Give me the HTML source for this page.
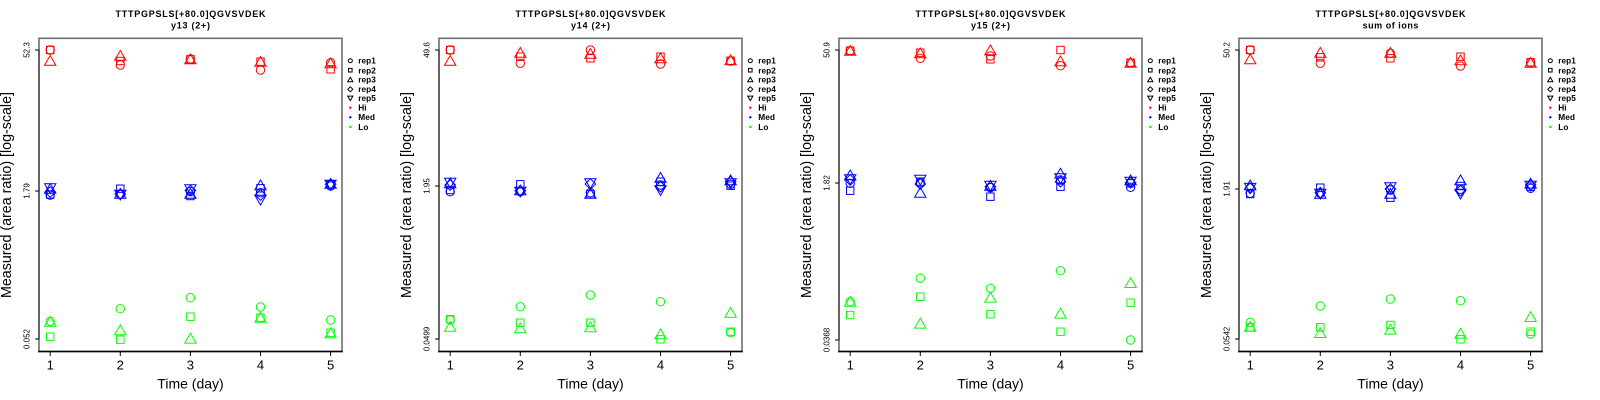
<!DOCTYPE html>
<html><head><meta charset="utf-8"><style>
html,body{margin:0;padding:0;background:#fff;width:1600px;height:400px;overflow:hidden}
svg{display:block}
text{font-family:"Liberation Sans",Arial,sans-serif;fill:#000}
</style></head><body>
<svg width="1600" height="400" viewBox="0 0 1600 400" xmlns="http://www.w3.org/2000/svg">
<rect width="1600" height="400" fill="#fff"/>

<!-- ================= PANEL 1 ================= -->
<g transform="translate(0,0)">
<text x="190.5" y="16.9" font-size="9" font-weight="bold" text-anchor="middle" textLength="150" lengthAdjust="spacing">TTTPGPSLS[+80.0]QGVSVDEK</text>
<text x="190.5" y="28.7" font-size="9" font-weight="bold" text-anchor="middle" textLength="39" lengthAdjust="spacing">y13 (2+)</text>
<rect x="39" y="38.3" width="303" height="313.2" fill="none" stroke="#6e6e6e" stroke-width="1.6"/>
<line x1="38.2" y1="351.5" x2="342.8" y2="351.5" stroke="#000" stroke-width="1.6"/>
<line x1="39" y1="50" x2="39" y2="339" stroke="#222" stroke-width="1"/>
<g stroke="#000" stroke-width="1">
<line x1="35" y1="50" x2="39" y2="50"/><line x1="35" y1="191" x2="39" y2="191"/><line x1="35" y1="339" x2="39" y2="339"/>
<line x1="50.2" y1="351.5" x2="50.2" y2="356"/><line x1="120.3" y1="351.5" x2="120.3" y2="356"/><line x1="190.4" y1="351.5" x2="190.4" y2="356"/><line x1="260.5" y1="351.5" x2="260.5" y2="356"/><line x1="330.6" y1="351.5" x2="330.6" y2="356"/>
</g>
<text transform="translate(29.3,50) rotate(-90)" font-size="8" text-anchor="middle">52.3</text>
<text transform="translate(29.3,191) rotate(-90)" font-size="8" text-anchor="middle">1.79</text>
<text transform="translate(29.3,339) rotate(-90)" font-size="8" text-anchor="middle">0.052</text>
<g font-size="13" text-anchor="middle"><text x="50.2" y="369.3">1</text><text x="120.3" y="369.3">2</text><text x="190.4" y="369.3">3</text><text x="260.5" y="369.3">4</text><text x="330.6" y="369.3">5</text></g>
<text x="190.5" y="388.3" font-size="14" text-anchor="middle">Time (day)</text>
<text transform="translate(11,195) rotate(-90)" font-size="14.3" text-anchor="middle" textLength="206" lengthAdjust="spacingAndGlyphs">Measured (area ratio) [log-scale]</text>
<g fill="none" stroke="#f00" stroke-width="1">
<circle cx="50.2" cy="50" r="4.2"/><rect x="46.5" y="46.3" width="7.4" height="7.4"/><path transform="translate(50.2,62)" d="M0,-6.5L5.66,3.27H-5.66Z"/>
<path transform="translate(120.3,57)" d="M0,-6.5L5.66,3.27H-5.66Z"/><rect x="116.6" y="57.3" width="7.4" height="7.4"/><circle cx="120.3" cy="65" r="4.2"/>
<rect x="186.7" y="55.6" width="7.4" height="7.4"/><path transform="translate(190.4,60.5)" d="M0,-6.5L5.66,3.27H-5.66Z"/><circle cx="190.4" cy="59" r="4.2"/>
<rect x="256.8" y="58" width="7.4" height="7.4"/><path transform="translate(260.5,63)" d="M0,-6.5L5.66,3.27H-5.66Z"/><circle cx="260.5" cy="70" r="4.2"/>
<circle cx="330.6" cy="62.7" r="4.2"/><path transform="translate(330.6,64.5)" d="M0,-6.5L5.66,3.27H-5.66Z"/><rect x="326.9" y="65.6" width="7.4" height="7.4"/>
</g>
<g fill="none" stroke="#00f" stroke-width="1">
<circle cx="50.2" cy="195" r="4.2"/><rect x="46.5" y="190.8" width="7.4" height="7.4"/><path transform="translate(50.2,190)" d="M0,-6.5L5.66,3.27H-5.66Z"/><path transform="translate(50.2,192)" d="M0,-5.3L5.3,0L0,5.3L-5.3,0Z"/><path transform="translate(50.2,187)" d="M0,6.5L5.66,-3.27H-5.66Z"/>
<rect x="116.6" y="185" width="7.4" height="7.4"/><circle cx="120.3" cy="194.3" r="4.2"/><path transform="translate(120.3,194)" d="M0,-5.3L5.3,0L0,5.3L-5.3,0Z"/><path transform="translate(120.3,195)" d="M0,-6.5L5.66,3.27H-5.66Z"/><path transform="translate(120.3,193.5)" d="M0,6.5L5.66,-3.27H-5.66Z"/>
<rect x="186.7" y="192.3" width="7.4" height="7.4"/><path transform="translate(190.4,195)" d="M0,-6.5L5.66,3.27H-5.66Z"/><circle cx="190.4" cy="191.5" r="4.2"/><path transform="translate(190.4,190.5)" d="M0,-5.3L5.3,0L0,5.3L-5.3,0Z"/><path transform="translate(190.4,188)" d="M0,6.5L5.66,-3.27H-5.66Z"/>
<path transform="translate(260.5,186.5)" d="M0,-6.5L5.66,3.27H-5.66Z"/><rect x="256.8" y="184.6" width="7.4" height="7.4"/><circle cx="260.5" cy="192.7" r="4.2"/><path transform="translate(260.5,195)" d="M0,-5.3L5.3,0L0,5.3L-5.3,0Z"/><path transform="translate(260.5,198.5)" d="M0,6.5L5.66,-3.27H-5.66Z"/>
<circle cx="330.6" cy="186" r="4.2"/><rect x="326.9" y="180.6" width="7.4" height="7.4"/><path transform="translate(330.6,185)" d="M0,-6.5L5.66,3.27H-5.66Z"/><path transform="translate(330.6,184.3)" d="M0,-5.3L5.3,0L0,5.3L-5.3,0Z"/><path transform="translate(330.6,183.5)" d="M0,6.5L5.66,-3.27H-5.66Z"/>
</g>
<g fill="none" stroke="#0f0" stroke-width="1">
<circle cx="50.2" cy="321.3" r="4.2"/><path transform="translate(50.2,323)" d="M0,-6.5L5.66,3.27H-5.66Z"/><rect x="46.5" y="333" width="7.4" height="7.4"/>
<circle cx="120.3" cy="308.7" r="4.2"/><path transform="translate(120.3,331.5)" d="M0,-6.5L5.66,3.27H-5.66Z"/><rect x="116.6" y="336" width="7.4" height="7.4"/>
<circle cx="190.4" cy="297.7" r="4.2"/><rect x="186.7" y="313" width="7.4" height="7.4"/><path transform="translate(190.4,339.8)" d="M0,-6.5L5.66,3.27H-5.66Z"/>
<circle cx="260.5" cy="307" r="4.2"/><rect x="256.8" y="314" width="7.4" height="7.4"/><path transform="translate(260.5,319)" d="M0,-6.5L5.66,3.27H-5.66Z"/>
<circle cx="330.6" cy="320" r="4.2"/><rect x="326.9" y="329" width="7.4" height="7.4"/><path transform="translate(330.6,334.5)" d="M0,-6.5L5.66,3.27H-5.66Z"/>
</g>
<g fill="none" stroke="#000" stroke-width="1">
<circle cx="350.3" cy="60.7" r="2"/><rect x="348.5" y="68.4" width="3.6" height="3.6"/><path transform="translate(350.3,80.3)" d="M0,-3L2.6,1.5H-2.6Z"/><path transform="translate(350.3,89.3)" d="M0,-2.5L2.5,0L0,2.5L-2.5,0Z"/><path transform="translate(350.3,97.6)" d="M0,3L2.6,-1.5H-2.6Z"/>
</g>
<circle cx="350.3" cy="107.7" r="1.2" fill="#f00"/><circle cx="350.3" cy="117.3" r="1.2" fill="#00f"/><circle cx="350.3" cy="127" r="1.2" fill="#0f0"/>
<g font-size="8.3" font-weight="bold"><text x="358.3" y="63.6">rep1</text><text x="358.3" y="73.4">rep2</text><text x="358.3" y="82.4">rep3</text><text x="358.3" y="92.2">rep4</text><text x="358.3" y="101.2">rep5</text><text x="358.3" y="110.6">Hi</text><text x="358.3" y="120.2">Med</text><text x="358.3" y="129.9">Lo</text></g>
</g>

<!-- ================= PANEL 2 ================= -->
<g transform="translate(400,0)">
<text x="190.5" y="16.9" font-size="9" font-weight="bold" text-anchor="middle" textLength="150" lengthAdjust="spacing">TTTPGPSLS[+80.0]QGVSVDEK</text>
<text x="190.5" y="28.7" font-size="9" font-weight="bold" text-anchor="middle" textLength="39" lengthAdjust="spacing">y14 (2+)</text>
<rect x="39" y="38.3" width="303" height="313.2" fill="none" stroke="#6e6e6e" stroke-width="1.6"/>
<line x1="38.2" y1="351.5" x2="342.8" y2="351.5" stroke="#000" stroke-width="1.6"/>
<line x1="39" y1="50" x2="39" y2="339" stroke="#222" stroke-width="1"/>
<g stroke="#000" stroke-width="1">
<line x1="35" y1="50" x2="39" y2="50"/><line x1="35" y1="186" x2="39" y2="186"/><line x1="35" y1="339" x2="39" y2="339"/>
<line x1="50.2" y1="351.5" x2="50.2" y2="356"/><line x1="120.3" y1="351.5" x2="120.3" y2="356"/><line x1="190.4" y1="351.5" x2="190.4" y2="356"/><line x1="260.5" y1="351.5" x2="260.5" y2="356"/><line x1="330.6" y1="351.5" x2="330.6" y2="356"/>
</g>
<text transform="translate(29.3,50) rotate(-90)" font-size="8" text-anchor="middle">49.6</text>
<text transform="translate(29.3,186) rotate(-90)" font-size="8" text-anchor="middle">1.95</text>
<text transform="translate(29.3,339) rotate(-90)" font-size="8" text-anchor="middle">0.0499</text>
<g font-size="13" text-anchor="middle"><text x="50.2" y="369.3">1</text><text x="120.3" y="369.3">2</text><text x="190.4" y="369.3">3</text><text x="260.5" y="369.3">4</text><text x="330.6" y="369.3">5</text></g>
<text x="190.5" y="388.3" font-size="14" text-anchor="middle">Time (day)</text>
<text transform="translate(11,195) rotate(-90)" font-size="14.3" text-anchor="middle" textLength="206" lengthAdjust="spacingAndGlyphs">Measured (area ratio) [log-scale]</text>
<g fill="none" stroke="#f00" stroke-width="1">
<circle cx="50.2" cy="50" r="4.2"/><rect x="46.5" y="46.3" width="7.4" height="7.4"/><path transform="translate(50.2,62)" d="M0,-6.5L5.66,3.27H-5.66Z"/>
<path transform="translate(120.3,54)" d="M0,-6.5L5.66,3.27H-5.66Z"/><rect x="116.6" y="53" width="7.4" height="7.4"/><circle cx="120.3" cy="63.3" r="4.2"/>
<circle cx="190.4" cy="50" r="4.2"/><path transform="translate(190.4,55)" d="M0,-6.5L5.66,3.27H-5.66Z"/><rect x="186.7" y="54.6" width="7.4" height="7.4"/>
<rect x="256.8" y="53" width="7.4" height="7.4"/><path transform="translate(260.5,59.5)" d="M0,-6.5L5.66,3.27H-5.66Z"/><circle cx="260.5" cy="64" r="4.2"/>
<circle cx="330.6" cy="61" r="4.2"/><rect x="326.9" y="57" width="7.4" height="7.4"/><path transform="translate(330.6,61.5)" d="M0,-6.5L5.66,3.27H-5.66Z"/>
</g>
<g fill="none" stroke="#00f" stroke-width="1">
<circle cx="50.2" cy="191.7" r="4.2"/><rect x="46.5" y="186.3" width="7.4" height="7.4"/><path transform="translate(50.2,184.5)" d="M0,-6.5L5.66,3.27H-5.66Z"/><path transform="translate(50.2,185)" d="M0,-5.3L5.3,0L0,5.3L-5.3,0Z"/><path transform="translate(50.2,181.5)" d="M0,6.5L5.66,-3.27H-5.66Z"/>
<rect x="116.6" y="180.6" width="7.4" height="7.4"/><circle cx="120.3" cy="191.7" r="4.2"/><path transform="translate(120.3,190.7)" d="M0,-5.3L5.3,0L0,5.3L-5.3,0Z"/><path transform="translate(120.3,191.5)" d="M0,-6.5L5.66,3.27H-5.66Z"/><path transform="translate(120.3,190.5)" d="M0,6.5L5.66,-3.27H-5.66Z"/>
<rect x="186.7" y="190.6" width="7.4" height="7.4"/><circle cx="190.4" cy="192.7" r="4.2"/><path transform="translate(190.4,195)" d="M0,-6.5L5.66,3.27H-5.66Z"/><path transform="translate(190.4,184)" d="M0,-5.3L5.3,0L0,5.3L-5.3,0Z"/><path transform="translate(190.4,182)" d="M0,6.5L5.66,-3.27H-5.66Z"/>
<path transform="translate(260.5,179)" d="M0,-6.5L5.66,3.27H-5.66Z"/><rect x="256.8" y="178" width="7.4" height="7.4"/><circle cx="260.5" cy="185" r="4.2"/><path transform="translate(260.5,186.7)" d="M0,-5.3L5.3,0L0,5.3L-5.3,0Z"/><path transform="translate(260.5,189)" d="M0,6.5L5.66,-3.27H-5.66Z"/>
<path transform="translate(330.6,181.5)" d="M0,-6.5L5.66,3.27H-5.66Z"/><rect x="326.9" y="182" width="7.4" height="7.4"/><circle cx="330.6" cy="184.3" r="4.2"/><path transform="translate(330.6,181.7)" d="M0,-5.3L5.3,0L0,5.3L-5.3,0Z"/><path transform="translate(330.6,182)" d="M0,6.5L5.66,-3.27H-5.66Z"/>
</g>
<g fill="none" stroke="#0f0" stroke-width="1">
<circle cx="50.2" cy="320" r="4.2"/><rect x="46.5" y="315.6" width="7.4" height="7.4"/><path transform="translate(50.2,328)" d="M0,-6.5L5.66,3.27H-5.66Z"/>
<circle cx="120.3" cy="306.7" r="4.2"/><rect x="116.6" y="319" width="7.4" height="7.4"/><path transform="translate(120.3,329.5)" d="M0,-6.5L5.66,3.27H-5.66Z"/>
<circle cx="190.4" cy="295" r="4.2"/><rect x="186.7" y="319" width="7.4" height="7.4"/><path transform="translate(190.4,328.5)" d="M0,-6.5L5.66,3.27H-5.66Z"/>
<circle cx="260.5" cy="301.7" r="4.2"/><path transform="translate(260.5,335.5)" d="M0,-6.5L5.66,3.27H-5.66Z"/><rect x="256.8" y="335.6" width="7.4" height="7.4"/>
<path transform="translate(330.6,314)" d="M0,-6.5L5.66,3.27H-5.66Z"/><rect x="326.9" y="328" width="7.4" height="7.4"/><circle cx="330.6" cy="332.7" r="4.2"/>
</g>
<g fill="none" stroke="#000" stroke-width="1">
<circle cx="350.3" cy="60.7" r="2"/><rect x="348.5" y="68.4" width="3.6" height="3.6"/><path transform="translate(350.3,80.3)" d="M0,-3L2.6,1.5H-2.6Z"/><path transform="translate(350.3,89.3)" d="M0,-2.5L2.5,0L0,2.5L-2.5,0Z"/><path transform="translate(350.3,97.6)" d="M0,3L2.6,-1.5H-2.6Z"/>
</g>
<circle cx="350.3" cy="107.7" r="1.2" fill="#f00"/><circle cx="350.3" cy="117.3" r="1.2" fill="#00f"/><circle cx="350.3" cy="127" r="1.2" fill="#0f0"/>
<g font-size="8.3" font-weight="bold"><text x="358.3" y="63.6">rep1</text><text x="358.3" y="73.4">rep2</text><text x="358.3" y="82.4">rep3</text><text x="358.3" y="92.2">rep4</text><text x="358.3" y="101.2">rep5</text><text x="358.3" y="110.6">Hi</text><text x="358.3" y="120.2">Med</text><text x="358.3" y="129.9">Lo</text></g>
</g>

<!-- ================= PANEL 3 ================= -->
<g transform="translate(800,0)">
<text x="190.5" y="16.9" font-size="9" font-weight="bold" text-anchor="middle" textLength="150" lengthAdjust="spacing">TTTPGPSLS[+80.0]QGVSVDEK</text>
<text x="190.5" y="28.7" font-size="9" font-weight="bold" text-anchor="middle" textLength="39" lengthAdjust="spacing">y15 (2+)</text>
<rect x="39" y="38.3" width="303" height="313.2" fill="none" stroke="#6e6e6e" stroke-width="1.6"/>
<line x1="38.2" y1="351.5" x2="342.8" y2="351.5" stroke="#000" stroke-width="1.6"/>
<line x1="39" y1="50" x2="39" y2="340" stroke="#222" stroke-width="1"/>
<g stroke="#000" stroke-width="1">
<line x1="35" y1="50" x2="39" y2="50"/><line x1="35" y1="183" x2="39" y2="183"/><line x1="35" y1="340" x2="39" y2="340"/>
<line x1="50.2" y1="351.5" x2="50.2" y2="356"/><line x1="120.3" y1="351.5" x2="120.3" y2="356"/><line x1="190.4" y1="351.5" x2="190.4" y2="356"/><line x1="260.5" y1="351.5" x2="260.5" y2="356"/><line x1="330.6" y1="351.5" x2="330.6" y2="356"/>
</g>
<text transform="translate(29.3,50) rotate(-90)" font-size="8" text-anchor="middle">50.9</text>
<text transform="translate(29.3,183) rotate(-90)" font-size="8" text-anchor="middle">1.82</text>
<text transform="translate(29.3,340) rotate(-90)" font-size="8" text-anchor="middle">0.0368</text>
<g font-size="13" text-anchor="middle"><text x="50.2" y="369.3">1</text><text x="120.3" y="369.3">2</text><text x="190.4" y="369.3">3</text><text x="260.5" y="369.3">4</text><text x="330.6" y="369.3">5</text></g>
<text x="190.5" y="388.3" font-size="14" text-anchor="middle">Time (day)</text>
<text transform="translate(11,195) rotate(-90)" font-size="14.3" text-anchor="middle" textLength="206" lengthAdjust="spacingAndGlyphs">Measured (area ratio) [log-scale]</text>
<g fill="none" stroke="#f00" stroke-width="1">
<circle cx="50.2" cy="50.7" r="4.2"/><rect x="46.5" y="47" width="7.4" height="7.4"/><path transform="translate(50.2,52)" d="M0,-6.5L5.66,3.27H-5.66Z"/>
<rect x="116.6" y="49" width="7.4" height="7.4"/><path transform="translate(120.3,54.5)" d="M0,-6.5L5.66,3.27H-5.66Z"/><circle cx="120.3" cy="58.3" r="4.2"/>
<path transform="translate(190.4,51.5)" d="M0,-6.5L5.66,3.27H-5.66Z"/><rect x="186.7" y="55.6" width="7.4" height="7.4"/><circle cx="190.4" cy="56" r="4.2"/>
<rect x="256.8" y="46.3" width="7.4" height="7.4"/><path transform="translate(260.5,62.5)" d="M0,-6.5L5.66,3.27H-5.66Z"/><circle cx="260.5" cy="65.7" r="4.2"/>
<circle cx="330.6" cy="62.7" r="4.2"/><rect x="326.9" y="59" width="7.4" height="7.4"/><path transform="translate(330.6,64)" d="M0,-6.5L5.66,3.27H-5.66Z"/>
</g>
<g fill="none" stroke="#00f" stroke-width="1">
<path transform="translate(50.2,176.5)" d="M0,-6.5L5.66,3.27H-5.66Z"/><path transform="translate(50.2,180)" d="M0,-5.3L5.3,0L0,5.3L-5.3,0Z"/><circle cx="50.2" cy="183.3" r="4.2"/><rect x="46.5" y="187" width="7.4" height="7.4"/><path transform="translate(50.2,178)" d="M0,6.5L5.66,-3.27H-5.66Z"/>
<path transform="translate(120.3,178.5)" d="M0,6.5L5.66,-3.27H-5.66Z"/><rect x="116.6" y="178" width="7.4" height="7.4"/><circle cx="120.3" cy="182.7" r="4.2"/><path transform="translate(120.3,184)" d="M0,-5.3L5.3,0L0,5.3L-5.3,0Z"/><path transform="translate(120.3,194)" d="M0,-6.5L5.66,3.27H-5.66Z"/>
<rect x="186.7" y="193" width="7.4" height="7.4"/><circle cx="190.4" cy="187.7" r="4.2"/><path transform="translate(190.4,186.7)" d="M0,-5.3L5.3,0L0,5.3L-5.3,0Z"/><path transform="translate(190.4,187)" d="M0,-6.5L5.66,3.27H-5.66Z"/><path transform="translate(190.4,184.5)" d="M0,6.5L5.66,-3.27H-5.66Z"/>
<path transform="translate(260.5,174.8)" d="M0,-6.5L5.66,3.27H-5.66Z"/><rect x="256.8" y="183" width="7.4" height="7.4"/><circle cx="260.5" cy="180" r="4.2"/><path transform="translate(260.5,181.7)" d="M0,-5.3L5.3,0L0,5.3L-5.3,0Z"/><path transform="translate(260.5,177)" d="M0,6.5L5.66,-3.27H-5.66Z"/>
<circle cx="330.6" cy="187.3" r="4.2"/><rect x="326.9" y="179.6" width="7.4" height="7.4"/><path transform="translate(330.6,181.5)" d="M0,-6.5L5.66,3.27H-5.66Z"/><path transform="translate(330.6,182.7)" d="M0,-5.3L5.3,0L0,5.3L-5.3,0Z"/><path transform="translate(330.6,180.5)" d="M0,6.5L5.66,-3.27H-5.66Z"/>
</g>
<g fill="none" stroke="#0f0" stroke-width="1">
<circle cx="50.2" cy="301.7" r="4.2"/><path transform="translate(50.2,303)" d="M0,-6.5L5.66,3.27H-5.66Z"/><rect x="46.5" y="311.3" width="7.4" height="7.4"/>
<circle cx="120.3" cy="278.3" r="4.2"/><rect x="116.6" y="293" width="7.4" height="7.4"/><path transform="translate(120.3,324.8)" d="M0,-6.5L5.66,3.27H-5.66Z"/>
<circle cx="190.4" cy="288.3" r="4.2"/><path transform="translate(190.4,298.8)" d="M0,-6.5L5.66,3.27H-5.66Z"/><rect x="186.7" y="310.6" width="7.4" height="7.4"/>
<circle cx="260.5" cy="270.7" r="4.2"/><path transform="translate(260.5,314.8)" d="M0,-6.5L5.66,3.27H-5.66Z"/><rect x="256.8" y="328" width="7.4" height="7.4"/>
<path transform="translate(330.6,284.2)" d="M0,-6.5L5.66,3.27H-5.66Z"/><rect x="326.9" y="299" width="7.4" height="7.4"/><circle cx="330.6" cy="340" r="4.2"/>
</g>
<g fill="none" stroke="#000" stroke-width="1">
<circle cx="350.3" cy="60.7" r="2"/><rect x="348.5" y="68.4" width="3.6" height="3.6"/><path transform="translate(350.3,80.3)" d="M0,-3L2.6,1.5H-2.6Z"/><path transform="translate(350.3,89.3)" d="M0,-2.5L2.5,0L0,2.5L-2.5,0Z"/><path transform="translate(350.3,97.6)" d="M0,3L2.6,-1.5H-2.6Z"/>
</g>
<circle cx="350.3" cy="107.7" r="1.2" fill="#f00"/><circle cx="350.3" cy="117.3" r="1.2" fill="#00f"/><circle cx="350.3" cy="127" r="1.2" fill="#0f0"/>
<g font-size="8.3" font-weight="bold"><text x="358.3" y="63.6">rep1</text><text x="358.3" y="73.4">rep2</text><text x="358.3" y="82.4">rep3</text><text x="358.3" y="92.2">rep4</text><text x="358.3" y="101.2">rep5</text><text x="358.3" y="110.6">Hi</text><text x="358.3" y="120.2">Med</text><text x="358.3" y="129.9">Lo</text></g>
</g>

<!-- ================= PANEL 4 ================= -->
<g transform="translate(1200,0)">
<text x="190.5" y="16.9" font-size="9" font-weight="bold" text-anchor="middle" textLength="150" lengthAdjust="spacing">TTTPGPSLS[+80.0]QGVSVDEK</text>
<text x="190.5" y="28.7" font-size="9" font-weight="bold" text-anchor="middle" textLength="55.7" lengthAdjust="spacing">sum of ions</text>
<rect x="39" y="38.3" width="303" height="313.2" fill="none" stroke="#6e6e6e" stroke-width="1.6"/>
<line x1="38.2" y1="351.5" x2="342.8" y2="351.5" stroke="#000" stroke-width="1.6"/>
<line x1="39" y1="50" x2="39" y2="339" stroke="#222" stroke-width="1"/>
<g stroke="#000" stroke-width="1">
<line x1="35" y1="50" x2="39" y2="50"/><line x1="35" y1="189" x2="39" y2="189"/><line x1="35" y1="339" x2="39" y2="339"/>
<line x1="50.2" y1="351.5" x2="50.2" y2="356"/><line x1="120.3" y1="351.5" x2="120.3" y2="356"/><line x1="190.4" y1="351.5" x2="190.4" y2="356"/><line x1="260.5" y1="351.5" x2="260.5" y2="356"/><line x1="330.6" y1="351.5" x2="330.6" y2="356"/>
</g>
<text transform="translate(29.3,50) rotate(-90)" font-size="8" text-anchor="middle">50.2</text>
<text transform="translate(29.3,189) rotate(-90)" font-size="8" text-anchor="middle">1.91</text>
<text transform="translate(29.3,339) rotate(-90)" font-size="8" text-anchor="middle">0.0542</text>
<g font-size="13" text-anchor="middle"><text x="50.2" y="369.3">1</text><text x="120.3" y="369.3">2</text><text x="190.4" y="369.3">3</text><text x="260.5" y="369.3">4</text><text x="330.6" y="369.3">5</text></g>
<text x="190.5" y="388.3" font-size="14" text-anchor="middle">Time (day)</text>
<text transform="translate(11,195) rotate(-90)" font-size="14.3" text-anchor="middle" textLength="206" lengthAdjust="spacingAndGlyphs">Measured (area ratio) [log-scale]</text>
<g fill="none" stroke="#f00" stroke-width="1">
<circle cx="50.2" cy="50" r="4.2"/><rect x="46.5" y="46.3" width="7.4" height="7.4"/><path transform="translate(50.2,60.5)" d="M0,-6.5L5.66,3.27H-5.66Z"/>
<path transform="translate(120.3,54)" d="M0,-6.5L5.66,3.27H-5.66Z"/><rect x="116.6" y="53.6" width="7.4" height="7.4"/><circle cx="120.3" cy="63.3" r="4.2"/>
<circle cx="190.4" cy="53.3" r="4.2"/><path transform="translate(190.4,54)" d="M0,-6.5L5.66,3.27H-5.66Z"/><rect x="186.7" y="54.6" width="7.4" height="7.4"/>
<rect x="256.8" y="53" width="7.4" height="7.4"/><path transform="translate(260.5,61.5)" d="M0,-6.5L5.66,3.27H-5.66Z"/><circle cx="260.5" cy="66" r="4.2"/>
<circle cx="330.6" cy="62.7" r="4.2"/><rect x="326.9" y="58.6" width="7.4" height="7.4"/><path transform="translate(330.6,64)" d="M0,-6.5L5.66,3.27H-5.66Z"/>
</g>
<g fill="none" stroke="#00f" stroke-width="1">
<circle cx="50.2" cy="193.3" r="4.2"/><rect x="46.5" y="190.3" width="7.4" height="7.4"/><path transform="translate(50.2,186.5)" d="M0,-6.5L5.66,3.27H-5.66Z"/><path transform="translate(50.2,188.3)" d="M0,-5.3L5.3,0L0,5.3L-5.3,0Z"/><path transform="translate(50.2,186.7)" d="M0,6.5L5.66,-3.27H-5.66Z"/>
<rect x="116.6" y="184" width="7.4" height="7.4"/><circle cx="120.3" cy="193.3" r="4.2"/><path transform="translate(120.3,192.7)" d="M0,-5.3L5.3,0L0,5.3L-5.3,0Z"/><path transform="translate(120.3,195)" d="M0,-6.5L5.66,3.27H-5.66Z"/><path transform="translate(120.3,192.5)" d="M0,6.5L5.66,-3.27H-5.66Z"/>
<rect x="186.7" y="194" width="7.4" height="7.4"/><circle cx="190.4" cy="190" r="4.2"/><path transform="translate(190.4,195)" d="M0,-6.5L5.66,3.27H-5.66Z"/><path transform="translate(190.4,189)" d="M0,-5.3L5.3,0L0,5.3L-5.3,0Z"/><path transform="translate(190.4,186)" d="M0,6.5L5.66,-3.27H-5.66Z"/>
<path transform="translate(260.5,181.5)" d="M0,-6.5L5.66,3.27H-5.66Z"/><rect x="256.8" y="182.3" width="7.4" height="7.4"/><circle cx="260.5" cy="189.3" r="4.2"/><path transform="translate(260.5,190.7)" d="M0,-5.3L5.3,0L0,5.3L-5.3,0Z"/><path transform="translate(260.5,192.5)" d="M0,6.5L5.66,-3.27H-5.66Z"/>
<circle cx="330.6" cy="188.3" r="4.2"/><rect x="326.9" y="183" width="7.4" height="7.4"/><path transform="translate(330.6,184.8)" d="M0,-6.5L5.66,3.27H-5.66Z"/><path transform="translate(330.6,185)" d="M0,-5.3L5.3,0L0,5.3L-5.3,0Z"/><path transform="translate(330.6,184.5)" d="M0,6.5L5.66,-3.27H-5.66Z"/>
</g>
<g fill="none" stroke="#0f0" stroke-width="1">
<circle cx="50.2" cy="322.3" r="4.2"/><rect x="46.5" y="323.6" width="7.4" height="7.4"/><path transform="translate(50.2,328)" d="M0,-6.5L5.66,3.27H-5.66Z"/>
<circle cx="120.3" cy="306" r="4.2"/><rect x="116.6" y="323.6" width="7.4" height="7.4"/><path transform="translate(120.3,334.2)" d="M0,-6.5L5.66,3.27H-5.66Z"/>
<circle cx="190.4" cy="299" r="4.2"/><rect x="186.7" y="321.3" width="7.4" height="7.4"/><path transform="translate(190.4,330.8)" d="M0,-6.5L5.66,3.27H-5.66Z"/>
<circle cx="260.5" cy="300.7" r="4.2"/><path transform="translate(260.5,334.8)" d="M0,-6.5L5.66,3.27H-5.66Z"/><rect x="256.8" y="335.6" width="7.4" height="7.4"/>
<path transform="translate(330.6,318.2)" d="M0,-6.5L5.66,3.27H-5.66Z"/><rect x="326.9" y="328" width="7.4" height="7.4"/><circle cx="330.6" cy="334" r="4.2"/>
</g>
<g fill="none" stroke="#000" stroke-width="1">
<circle cx="350.3" cy="60.7" r="2"/><rect x="348.5" y="68.4" width="3.6" height="3.6"/><path transform="translate(350.3,80.3)" d="M0,-3L2.6,1.5H-2.6Z"/><path transform="translate(350.3,89.3)" d="M0,-2.5L2.5,0L0,2.5L-2.5,0Z"/><path transform="translate(350.3,97.6)" d="M0,3L2.6,-1.5H-2.6Z"/>
</g>
<circle cx="350.3" cy="107.7" r="1.2" fill="#f00"/><circle cx="350.3" cy="117.3" r="1.2" fill="#00f"/><circle cx="350.3" cy="127" r="1.2" fill="#0f0"/>
<g font-size="8.3" font-weight="bold"><text x="358.3" y="63.6">rep1</text><text x="358.3" y="73.4">rep2</text><text x="358.3" y="82.4">rep3</text><text x="358.3" y="92.2">rep4</text><text x="358.3" y="101.2">rep5</text><text x="358.3" y="110.6">Hi</text><text x="358.3" y="120.2">Med</text><text x="358.3" y="129.9">Lo</text></g>
</g>
</svg>
</body></html>
